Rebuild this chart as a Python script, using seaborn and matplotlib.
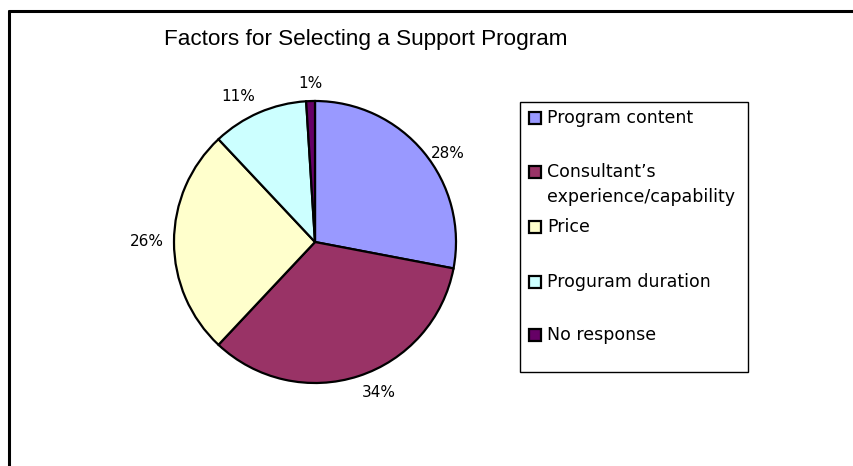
import matplotlib
matplotlib.use("Agg")
import matplotlib.pyplot as plt
from matplotlib.patches import Rectangle
from matplotlib.lines import Line2D
import seaborn as sns
import numpy as np

# Survey results: factors considered when selecting a support program
categories = [
    "Program content",
    "Consultant\u2019s\nexperience/capability",
    "Price",
    "Proguram duration",
    "No response",
]
shares = [28, 34, 26, 11, 1]
slice_colors = ["#9999FF", "#993366", "#FFFFCC", "#CCFFFF", "#660066"]
title = "Factors for Selecting a Support Program"

sns.set_theme(style="white")
plt.rcParams["font.family"] = ["DejaVu Sans"]
palette = sns.color_palette(slice_colors)

W, H = 854, 466
fig = plt.figure(figsize=(W / 100, H / 100), dpi=100)
fig.patch.set_facecolor("white")

# Pie axes: centre (315, 242) px, radius 141 px
cx, cy, r = 315, 242, 141
ax = fig.add_axes([(cx - r) / W, (H - cy - r) / H, 2 * r / W, 2 * r / H])
wedges, _, autotexts = ax.pie(
    shares,
    colors=palette,
    startangle=90,
    counterclock=False,
    autopct="%1.0f%%",
    wedgeprops=dict(edgecolor="black", linewidth=1.6),
    textprops=dict(fontsize=11, color="black"),
)
ax.set_xlim(-1, 1)
ax.set_ylim(-1, 1)
ax.set_aspect("equal")
ax.axis("off")

# Percentage labels just outside each wedge, anchored on the side facing the pie
for w, t in zip(wedges, autotexts):
    mid = np.deg2rad((w.theta1 + w.theta2) / 2)
    ux, uy = np.cos(mid), np.sin(mid)
    t.set_position((1.07 * ux, 1.07 * uy))
    t.set_ha("left" if ux > 0.15 else ("right" if ux < -0.15 else "center"))
    if uy > 0.7:
        t.set_va("bottom")
    elif abs(uy) <= 0.15:
        t.set_va("center")
    else:
        t.set_va("top")

# Title
fig.text(366 / W, 1 - 40 / H, title, ha="center", va="center",
         fontsize=16.2, family="Liberation Sans", color="black")

# Legend box
lx0, ly0, lx1, ly1 = 520, 102, 748, 372
fig.add_artist(Rectangle((lx0 / W, 1 - ly1 / H), (lx1 - lx0) / W, (ly1 - ly0) / H,
                         transform=fig.transFigure, facecolor="white",
                         edgecolor="black", linewidth=1.0))
entry_centers = [118, 172, 227, 282, 335]
sq = 12
for label, color, yc in zip(categories, palette, entry_centers):
    fig.add_artist(Rectangle((529 / W, 1 - (yc + sq / 2) / H), sq / W, sq / H,
                             transform=fig.transFigure, facecolor=color,
                             edgecolor="black", linewidth=1.6))
    fig.text(547 / W, 1 - (yc - 9) / H, label, ha="left", va="top",
             fontsize=12.5, linespacing=1.5, color="black")

# Chart frame (top and left edges)
fig.add_artist(Line2D([9 / W, 1], [1 - 11 / H, 1 - 11 / H],
                      transform=fig.transFigure, color="black", linewidth=2.2))
fig.add_artist(Line2D([9 / W, 9 / W], [0, 1 - 11 / H],
                      transform=fig.transFigure, color="black", linewidth=2.2))

fig.savefig("out.png", dpi=100)
